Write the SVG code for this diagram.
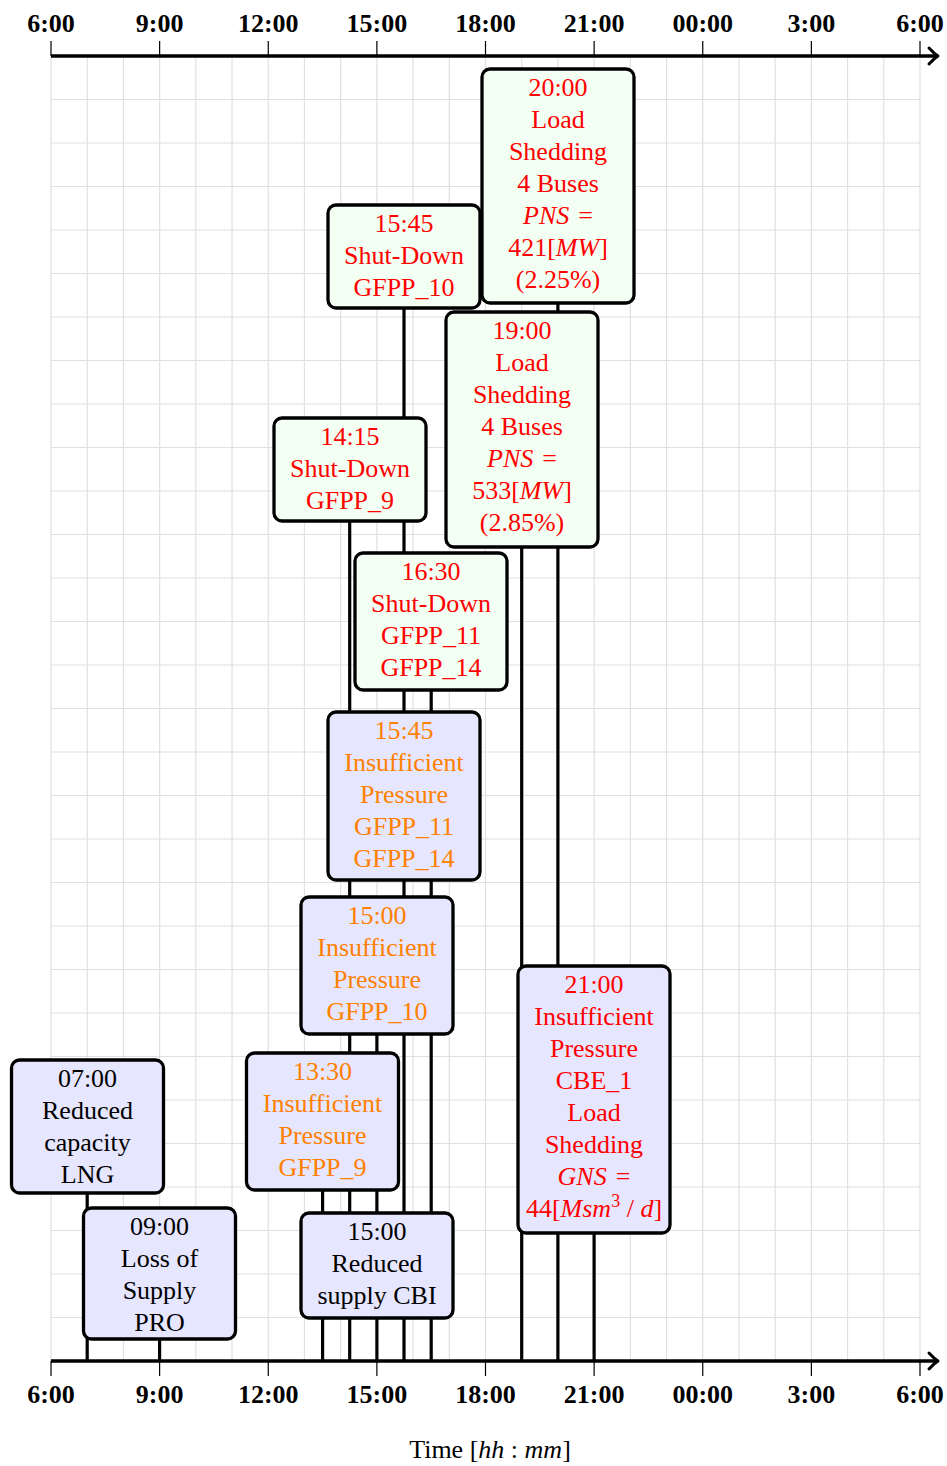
<svg xmlns="http://www.w3.org/2000/svg" width="947" height="1466" viewBox="0 0 947 1466">
<style>
.grid{fill:none;stroke:#e0e0e0;stroke-width:1.2}
.axis{fill:none;stroke:#000;stroke-width:3.3}
.tick{fill:none;stroke:#000;stroke-width:1.2}
.lbl{font-family:"Liberation Serif","Times New Roman",serif;font-size:26px;font-weight:bold;text-anchor:middle;fill:#000}
.ev{fill:none;stroke:#000;stroke-width:3.2}
.g{fill:#f2fff2;stroke:#000;stroke-width:3.3}
.p{fill:#e6e6ff;stroke:#000;stroke-width:3.3}
.t{font-family:"Liberation Serif","Times New Roman",serif;font-size:26px;text-anchor:middle}
.r{fill:#ff0000}
.o{fill:#ff8000}
.k{fill:#000}
.i{font-style:italic}
</style>
<defs>
<marker id="arr" markerUnits="userSpaceOnUse" markerWidth="20" markerHeight="24" refX="12" refY="12" orient="auto" viewBox="0 0 20 24">
<path d="M5,4 Q10,9.5 14,12 Q10,14.5 5,20" fill="none" stroke="#000" stroke-width="3" stroke-linecap="round" stroke-linejoin="round"/>
</marker>
</defs>
<g id="grid">
<path class="grid" d="M51 56V1361M87.21 56V1361M123.42 56V1361M159.63 56V1361M195.83 56V1361M232.04 56V1361M268.25 56V1361M304.46 56V1361M340.67 56V1361M376.88 56V1361M413.08 56V1361M449.29 56V1361M485.5 56V1361M521.71 56V1361M557.92 56V1361M594.13 56V1361M630.33 56V1361M666.54 56V1361M702.75 56V1361M738.96 56V1361M775.17 56V1361M811.38 56V1361M847.58 56V1361M883.79 56V1361M920 56V1361"/>
<path class="grid" d="M51 99.5H920M51 143H920M51 186.5H920M51 230H920M51 273.5H920M51 317H920M51 360.5H920M51 404H920M51 447.5H920M51 491H920M51 534.5H920M51 578H920M51 621.5H920M51 665H920M51 708.5H920M51 752H920M51 795.5H920M51 839H920M51 882.5H920M51 926H920M51 969.5H920M51 1013H920M51 1056.5H920M51 1100H920M51 1143.5H920M51 1187H920M51 1230.5H920M51 1274H920M51 1317.5H920"/>
</g>
<g id="axes">
<path class="tick" d="M51 41V56M159.63 41V56M268.25 41V56M376.88 41V56M485.5 41V56M594.13 41V56M702.75 41V56M811.38 41V56M920 41V56"/>
<path class="tick" d="M51 1361V1376M159.63 1361V1376M268.25 1361V1376M376.88 1361V1376M485.5 1361V1376M594.13 1361V1376M702.75 1361V1376M811.38 1361V1376M920 1361V1376"/>
<line class="axis" x1="51" y1="56" x2="936" y2="56" marker-end="url(#arr)"/>
<line class="axis" x1="51" y1="1361" x2="936" y2="1361" marker-end="url(#arr)"/>
<g class="lbl">
<text x="51" y="32">6:00</text><text x="159.6" y="32">9:00</text><text x="268.3" y="32">12:00</text><text x="376.9" y="32">15:00</text><text x="485.5" y="32">18:00</text><text x="594.1" y="32">21:00</text><text x="702.8" y="32">00:00</text><text x="811.4" y="32">3:00</text><text x="920" y="32">6:00</text>
<text x="51" y="1403">6:00</text><text x="159.6" y="1403">9:00</text><text x="268.3" y="1403">12:00</text><text x="376.9" y="1403">15:00</text><text x="485.5" y="1403">18:00</text><text x="594.1" y="1403">21:00</text><text x="702.8" y="1403">00:00</text><text x="811.4" y="1403">3:00</text><text x="920" y="1403">6:00</text>
</g>
<text class="t k" x="490" y="1458">Time [<tspan class="i">hh</tspan> : <tspan class="i">mm</tspan>]</text>
</g>
<g id="connectors">
<path class="ev" d="M87.2 1193V1361M159.6 1339V1361M322.6 1190V1361M349.7 521V1361M376.9 1034V1361M404 308V1361M431.2 690V1361M521.7 547V1361M557.9 303V1361M594.1 1233V1361"/>
</g>
<g id="e0700">
<rect class="p" x="11.5" y="1060" width="152" height="133" rx="8"/>
<text class="t k" x="87.5" y="1086.5">07:00<tspan x="87.5" dy="32">Reduced</tspan><tspan x="87.5" dy="32">capacity</tspan><tspan x="87.5" dy="32">LNG</tspan></text>
</g>
<g id="e0900">
<rect class="p" x="83.5" y="1208" width="152" height="131" rx="8"/>
<text class="t k" x="159.5" y="1235">09:00<tspan x="159.5" dy="32">Loss of</tspan><tspan x="159.5" dy="32">Supply</tspan><tspan x="159.5" dy="32">PRO</tspan></text>
</g>
<g id="e1330">
<rect class="p" x="246.5" y="1053" width="152" height="137" rx="8"/>
<text class="t o" x="322.5" y="1080">13:30<tspan x="322.5" dy="32">Insufficient</tspan><tspan x="322.5" dy="32">Pressure</tspan><tspan x="322.5" dy="32">GFPP_9</tspan></text>
</g>
<g id="e1500r">
<rect class="p" x="301" y="1213" width="152" height="105" rx="8"/>
<text class="t k" x="377" y="1240">15:00<tspan x="377" dy="32">Reduced</tspan><tspan x="377" dy="32">supply CBI</tspan></text>
</g>
<g id="e1500i">
<rect class="p" x="301" y="897" width="152" height="137" rx="8"/>
<text class="t o" x="377" y="924">15:00<tspan x="377" dy="32">Insufficient</tspan><tspan x="377" dy="32">Pressure</tspan><tspan x="377" dy="32">GFPP_10</tspan></text>
</g>
<g id="e1545i">
<rect class="p" x="328" y="712" width="152" height="168" rx="8"/>
<text class="t o" x="404" y="739">15:45<tspan x="404" dy="32">Insufficient</tspan><tspan x="404" dy="32">Pressure</tspan><tspan x="404" dy="32">GFPP_11</tspan><tspan x="404" dy="32">GFPP_14</tspan></text>
</g>
<g id="e1630">
<rect class="g" x="355" y="553" width="152" height="137" rx="8"/>
<text class="t r" x="431" y="580">16:30<tspan x="431" dy="32">Shut-Down</tspan><tspan x="431" dy="32">GFPP_11</tspan><tspan x="431" dy="32">GFPP_14</tspan></text>
</g>
<g id="e1415">
<rect class="g" x="274" y="418" width="152" height="103" rx="8"/>
<text class="t r" x="350" y="445">14:15<tspan x="350" dy="32">Shut-Down</tspan><tspan x="350" dy="32">GFPP_9</tspan></text>
</g>
<g id="e1545s">
<rect class="g" x="328" y="205" width="152" height="103" rx="8"/>
<text class="t r" x="404" y="232">15:45<tspan x="404" dy="32">Shut-Down</tspan><tspan x="404" dy="32">GFPP_10</tspan></text>
</g>
<g id="e1900">
<rect class="g" x="446" y="312" width="152" height="235" rx="8"/>
<text class="t r" x="522" y="339">19:00<tspan x="522" dy="32">Load</tspan><tspan x="522" dy="32">Shedding</tspan><tspan x="522" dy="32">4 Buses</tspan><tspan x="522" dy="32"><tspan class="i">PNS</tspan><tspan dx="9">=</tspan></tspan><tspan x="522" dy="32">533[<tspan class="i">MW</tspan>]</tspan><tspan x="522" dy="32">(2.85%)</tspan></text>
</g>
<g id="e2000">
<rect class="g" x="482" y="69" width="152" height="234" rx="8"/>
<text class="t r" x="558" y="96">20:00<tspan x="558" dy="32">Load</tspan><tspan x="558" dy="32">Shedding</tspan><tspan x="558" dy="32">4 Buses</tspan><tspan x="558" dy="32"><tspan class="i">PNS</tspan><tspan dx="9">=</tspan></tspan><tspan x="558" dy="32">421[<tspan class="i">MW</tspan>]</tspan><tspan x="558" dy="32">(2.25%)</tspan></text>
</g>
<g id="e2100">
<rect class="p" x="518" y="966" width="152" height="267" rx="8"/>
<text class="t r" x="594" y="993">21:00<tspan x="594" dy="32">Insufficient</tspan><tspan x="594" dy="32">Pressure</tspan><tspan x="594" dy="32">CBE_1</tspan><tspan x="594" dy="32">Load</tspan><tspan x="594" dy="32">Shedding</tspan><tspan x="594" dy="32"><tspan class="i">GNS</tspan><tspan dx="9">=</tspan></tspan><tspan x="594" dy="32">44[<tspan class="i">Msm</tspan><tspan dy="-10" font-size="18">3</tspan><tspan dy="10"> / </tspan><tspan class="i">d</tspan>]</tspan></text>
</g>
</svg>
